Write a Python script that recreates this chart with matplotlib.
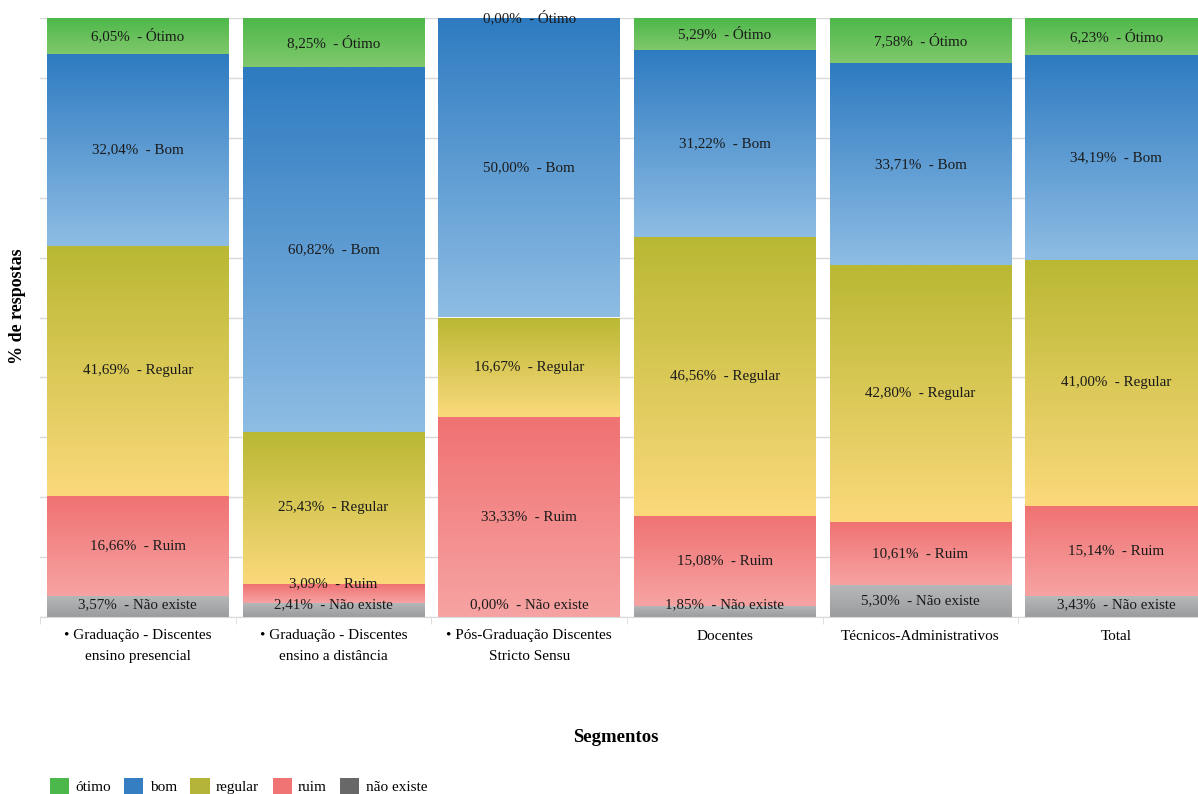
import matplotlib
matplotlib.use("Agg")
import matplotlib.pyplot as plt
import numpy as np
from matplotlib.colors import LinearSegmentedColormap
from matplotlib.patches import Patch

plt.rcParams["font.family"] = ["Liberation Serif", "DejaVu Serif"]

segments = [
    "• Graduação - Discentes\nensino presencial",
    "• Graduação - Discentes\nensino a distância",
    "• Pós-Graduação Discentes\nStricto Sensu",
    "Docentes",
    "Técnicos-Administrativos",
    "Total",
]

# stacked bottom -> top
categories = ["não existe", "ruim", "regular", "bom", "ótimo"]
label_names = ["Não existe", "Ruim", "Regular", "Bom", "Ótimo"]
nao_existe = [3.57, 2.41, 0.00, 1.85, 5.30, 3.43]
ruim = [16.66, 3.09, 33.33, 15.08, 10.61, 15.14]
regular = [41.69, 25.43, 16.67, 46.56, 42.80, 41.00]
bom = [32.04, 60.82, 50.00, 31.22, 33.71, 34.19]
otimo = [6.05, 8.25, 0.00, 5.29, 7.58, 6.23]
series = [nao_existe, ruim, regular, bom, otimo]

# gradient colours (top, bottom) and solid legend colours
grad = {
    "não existe": ("#b6b8b9", "#9a9c9d"),
    "ruim": ("#f07272", "#f7a3a3"),
    "regular": ("#b9b833", "#fbd97b"),
    "bom": ("#2e7bc1", "#8ebde4"),
    "ótimo": ("#4cb849", "#80c86c"),
}
solid = {
    "não existe": "#686868",
    "ruim": "#f07474",
    "regular": "#b5b43a",
    "bom": "#357ec2",
    "ótimo": "#4cb84c",
}

fig = plt.figure(figsize=(11.98, 7.94), dpi=100)
ax = fig.add_axes([40 / 1198, 1 - 617 / 794, 1174 / 1198, 599 / 794])

x = np.arange(len(segments))
width = 0.93
bottom = np.zeros(len(segments))
ramp = np.linspace(0, 1, 256).reshape(-1, 1)

for cat, name, vals in zip(categories, label_names, series):
    vals = np.array(vals)
    cmap = LinearSegmentedColormap.from_list(cat, [grad[cat][1], grad[cat][0]])
    bars = ax.bar(x, vals, width, bottom=bottom, color="none", linewidth=0, zorder=2)
    for b in bars:
        if b.get_height() <= 0:
            continue
        x0, y0 = b.get_x(), b.get_y()
        im = ax.imshow(ramp, cmap=cmap, aspect="auto", origin="lower",
                       extent=[x0, x0 + b.get_width(), y0, y0 + b.get_height()],
                       interpolation="bilinear", zorder=2)
        im.set_clip_path(b)
    bottom = bottom + vals

# data labels, centred, nudged so they don't collide
bottom = np.zeros(len(segments))
last = np.full(len(segments), -10.0)
for cat, name, vals in zip(categories, label_names, series):
    vals = np.array(vals)
    for i, v in enumerate(vals):
        yc = bottom[i] + v / 2
        yc = max(yc, 2.0, last[i] + 3.6)
        yc = min(yc, 100.0)
        last[i] = yc
        ax.text(x[i], yc, f"{v:.2f}".replace(".", ",") + "%  - " + name,
                ha="center", va="center", fontsize=10.8, color="#1a1a1a", zorder=4)
    bottom = bottom + vals

ax.set_xlim(-0.5, len(segments) - 0.5)
ax.set_ylim(0, 100)
ax.set_yticks(np.arange(0, 101, 10))
ax.set_yticklabels([])
ax.tick_params(axis="y", length=0)
ax.yaxis.grid(True, color="#d9d9d9", linewidth=1.0, zorder=0)
ax.set_axisbelow(True)

ax.set_xticks(x)
ax.set_xticklabels(segments, fontsize=11, linespacing=1.75, va="top")
ax.tick_params(axis="x", length=0, pad=9)
ax.set_xticks(np.arange(-0.5, len(segments), 1), minor=True)
ax.tick_params(axis="x", which="minor", length=5, color="#d9d9d9")

for s in ["left", "right", "top"]:
    ax.spines[s].set_visible(False)
ax.spines["bottom"].set_color("#d9d9d9")

fig.text(18 / 1198, 1 - 306 / 794, "% de respostas", rotation=90, ha="center",
         va="center", fontsize=13, fontweight="bold")
fig.text(616 / 1198, 1 - 737 / 794, "Segmentos", ha="center", va="center",
         fontsize=13.5, fontweight="bold")

handles = [Patch(facecolor=solid[c], edgecolor="none") for c in reversed(categories)]
fig.legend(handles, list(reversed(categories)), loc="center left",
           bbox_to_anchor=(36 / 1198, 1 - 786 / 794), ncol=5, frameon=False,
           fontsize=11, handlelength=1.25, handleheight=1.25,
           handletextpad=0.4, columnspacing=0.9)

fig.savefig("out.png", dpi=100)
